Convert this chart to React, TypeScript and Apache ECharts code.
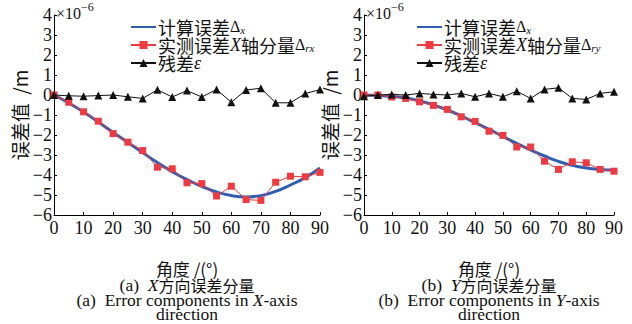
import React, { useEffect, useRef } from "react";
import * as echarts from "echarts";

const angles = [0, 5, 10, 15, 20, 25, 30, 35, 40, 45, 50, 55, 60, 65, 70, 75, 80, 85, 90];

// X direction (units of 1e-6 m)
const calcX = [0, -0.4, -0.85, -1.35, -1.87, -2.37, -2.88, -3.38, -3.83, -4.23, -4.57, -4.85, -5.03, -5.1, -5.03, -4.82, -4.5, -4.13, -3.65];
const measX = [0, -0.36, -0.84, -1.31, -1.93, -2.36, -2.78, -3.61, -3.69, -4.39, -4.43, -5.05, -4.56, -5.23, -5.27, -4.36, -4.06, -4.09, -3.87];
const resX = [0, -0.04, -0.06, -0.03, 0, -0.09, -0.17, 0.26, -0.1, 0.22, -0.1, 0.27, -0.36, 0.25, 0.34, -0.39, -0.39, 0.07, 0.27];

// Y direction (units of 1e-6 m)
const calcY = [0, -0.02, -0.07, -0.15, -0.3, -0.5, -0.75, -1.05, -1.38, -1.72, -2.07, -2.42, -2.75, -3.05, -3.32, -3.52, -3.65, -3.72, -3.75];
const measY = [0, 0, -0.1, -0.17, -0.34, -0.52, -0.72, -1.09, -1.32, -1.81, -2.02, -2.6, -2.6, -3.31, -3.72, -3.34, -3.39, -3.72, -3.81];
const resY = [-0.06, 0, 0.03, 0, 0.08, 0.03, 0, 0.08, -0.09, 0.08, -0.09, 0.19, -0.17, 0.28, 0.36, -0.17, -0.22, 0.08, 0.16];

const yTicksMin = -6;
const yTicksMax = 4;

const NAME_CALC = "计算误差Δx";
const NAME_MEAS_X = "实测误差X轴分量Δrx";
const NAME_MEAS_Y = "实测误差X轴分量Δry";
const NAME_RES = "残差ε";

const SERIF = "Liberation Serif";
const CJK = "Noto Sans CJK SC";

const BLUE = "#2f5fb3";
const RED = "#ee3a40";
const BLACK = "#111111";

const pairs = (vals: number[]) => angles.map((a, i) => [a, vals[i]]);

const legendFormatter = (name: string) => {
  if (name === NAME_CALC) return "{t|计算误差}{d|Δ}{s|x}";
  if (name === NAME_MEAS_X) return "{t|实测误差}{i|X}{t|轴分量}{d|Δ}{s|rx}";
  if (name === NAME_MEAS_Y) return "{t|实测误差}{i|X}{t|轴分量}{d|Δ}{s|ry}";
  if (name === NAME_RES) return "{t|残差}{i|ε}";
  return name;
};

const legendRich = {
  t: { fontFamily: CJK, fontSize: 18, color: "#111", lineHeight: 17 },
  i: { fontFamily: SERIF, fontStyle: "italic", fontSize: 18, color: "#111", lineHeight: 17 },
  d: { fontFamily: SERIF, fontSize: 16, color: "#111", lineHeight: 17 },
  s: { fontFamily: SERIF, fontStyle: "italic", fontSize: 11, color: "#111", lineHeight: 11, padding: [6, 0, 0, 0] },
};

const minusFmt = (v: number) => String(v).replace("-", "−");

function makeAxes(idx: number) {
  return {
    x: {
      type: "value",
      gridIndex: idx,
      min: 0,
      max: 90,
      interval: 10,
      axisLine: { show: true, onZero: false, lineStyle: { color: "#000", width: 1 } },
      axisTick: { show: true, inside: true, length: 3, lineStyle: { color: "#000" } },
      axisLabel: { margin: 4, fontFamily: SERIF, fontSize: 18, color: "#111" },
      splitLine: { show: false },
      name: "角度 /(°)",
      nameLocation: "middle",
      nameGap: 45,
      nameTextStyle: { fontFamily: CJK, fontSize: 17, color: "#111" },
    },
    y: {
      type: "value",
      gridIndex: idx,
      min: yTicksMin,
      max: yTicksMax,
      interval: 1,
      axisLine: { show: true, onZero: false, lineStyle: { color: "#000", width: 1 } },
      axisTick: { show: true, inside: true, length: 3, lineStyle: { color: "#000" } },
      axisLabel: { margin: 2, formatter: minusFmt, fontFamily: SERIF, fontSize: 18, color: "#111" },
      splitLine: { show: false },
      name: "误差值  /m",
      nameLocation: "middle",
      nameRotate: 90,
      nameGap: 24,
      nameTextStyle: { fontFamily: CJK, fontSize: 19, color: "#111" },
    },
  };
}

function makeSeries(idx: number, calc: number[], meas: number[], res: number[], measName: string) {
  return [
    {
      name: NAME_CALC,
      type: "line",
      xAxisIndex: idx,
      yAxisIndex: idx,
      data: pairs(calc),
      smooth: true,
      showSymbol: false,
      symbol: "none",
      lineStyle: { color: BLUE, width: 3 },
      itemStyle: { color: BLUE },
      z: 2,
    },
    {
      name: measName,
      type: "line",
      xAxisIndex: idx,
      yAxisIndex: idx,
      data: pairs(meas),
      symbol: "rect",
      symbolSize: 7,
      lineStyle: { color: RED, width: 1 },
      itemStyle: { color: RED },
      z: 3,
    },
    {
      name: NAME_RES,
      type: "line",
      xAxisIndex: idx,
      yAxisIndex: idx,
      data: pairs(res),
      symbol: "triangle",
      symbolSize: 8,
      lineStyle: { color: BLACK, width: 1 },
      itemStyle: { color: BLACK },
      z: 4,
    },
  ];
}

function caption(cx: number, lines: { y: number; rich: string }[]) {
  return lines.map((l) => ({
    type: "text",
    x: cx,
    y: l.y,
    style: {
      text: l.rich,
      align: "center",
      verticalAlign: "middle",
      rich: {
        c: { fontFamily: CJK, fontSize: 16, fill: "#111", lineHeight: 15 },
        e: { fontFamily: SERIF, fontSize: 17.5, fill: "#111", lineHeight: 15 },
        i: { fontFamily: SERIF, fontSize: 17.5, fontStyle: "italic", fill: "#111", lineHeight: 15 },
      },
    },
  }));
}

function scaleLabel(x: number) {
  return {
    type: "text",
    x: x,
    y: 0,
    style: {
      text: "{a|×10}{b|−6}",
      rich: {
        a: { fontFamily: SERIF, fontSize: 16, fill: "#111", padding: [5, 0, 0, 0] },
        b: { fontFamily: SERIF, fontSize: 12, fill: "#111", padding: [0, 0, 7, 0] },
      },
    },
  };
}

function legendData(names: string[]) {
  return names.map((n) =>
    n === NAME_CALC ? { name: n, itemStyle: { opacity: 0 } } : { name: n }
  );
}

export default function App() {
  const ref = useRef<HTMLDivElement>(null);
  useEffect(() => {
    if (!ref.current) return;
    const chart = echarts.init(ref.current, undefined, { renderer: "svg" });
    const a0 = makeAxes(0);
    const a1 = makeAxes(1);
    chart.setOption({
      animation: false,
      backgroundColor: "#fff",
      textStyle: { fontFamily: SERIF, color: "#111" },
      grid: [
        { left: 54, top: 15, width: 266, height: 200 },
        { left: 364, top: 15, width: 250, height: 200 },
      ],
      xAxis: [a0.x, a1.x],
      yAxis: [a0.y, a1.y],
      legend: [
        {
          orient: "vertical",
          left: 130,
          top: 18,
          itemGap: 0,
          itemWidth: 25,
          itemHeight: 10,
          padding: 0,
          data: legendData([NAME_CALC, NAME_MEAS_X, NAME_RES]),
          formatter: legendFormatter,
          textStyle: { rich: legendRich, padding: [0, 0, 0, -3] },
        },
        {
          orient: "vertical",
          left: 416,
          top: 18,
          itemGap: 0,
          itemWidth: 25,
          itemHeight: 10,
          padding: 0,
          data: legendData([NAME_CALC, NAME_MEAS_Y, NAME_RES]),
          formatter: legendFormatter,
          textStyle: { rich: legendRich, padding: [0, 0, 0, -3] },
        },
      ],
      series: [
        ...makeSeries(0, calcX, measX, resX, NAME_MEAS_X),
        ...makeSeries(1, calcY, measY, resY, NAME_MEAS_Y),
      ],
      graphic: [
        scaleLabel(56),
        scaleLabel(366),
        ...caption(187, [
          { y: 285, rich: "{e|(a)  }{i|X}{c|方向误差分量}" },
          { y: 300, rich: "{e|(a)  Error components in }{i|X}{e|-axis}" },
          { y: 314, rich: "{e|direction}" },
        ]),
        ...caption(489, [
          { y: 285, rich: "{e|(b)  }{i|Y}{c|方向误差分量}" },
          { y: 300, rich: "{e|(b)  Error components in }{i|Y}{e|-axis}" },
          { y: 314, rich: "{e|direction}" },
        ]),
      ],
    });
    return () => chart.dispose();
  }, []);
  return (
    <div
      ref={ref}
      style={{ position: "fixed", left: 0, top: 0, width: 632, height: 324, background: "#fff" }}
    />
  );
}
